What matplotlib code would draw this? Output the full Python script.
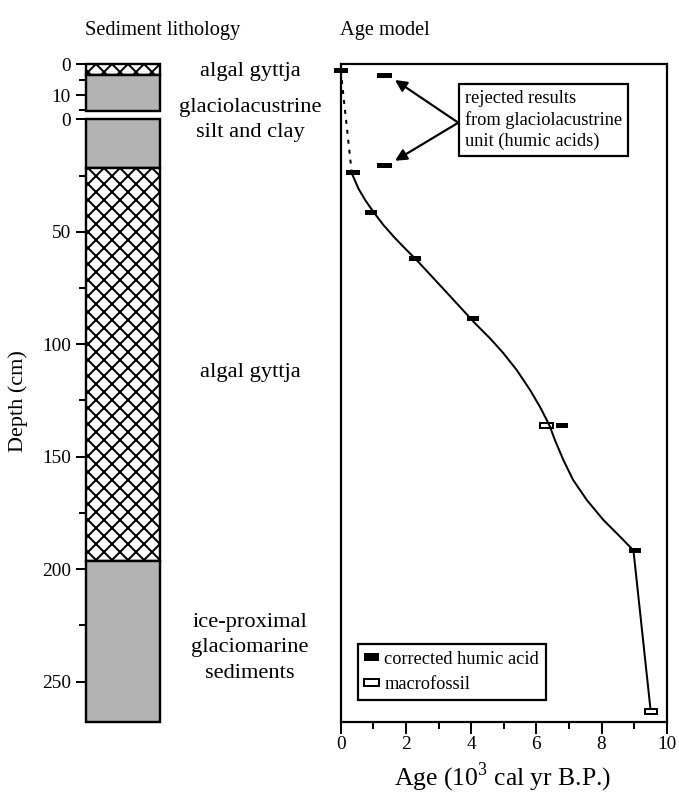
import matplotlib.pyplot as plt
import numpy as np

plt.rcParams['font.family'] = ['Liberation Serif', 'DejaVu Serif']
plt.rcParams['mathtext.fontset'] = 'custom'
plt.rcParams['mathtext.rm'] = 'Liberation Serif'
plt.rcParams['hatch.linewidth'] = 1.0

# lithology, upper (short) core, depth in cm
upper_top = [0, 3.5]
upper_bottom = [3.5, 15.2]
upper_fill = ['hatch', 'gray']
# lithology, lower (long) core
lower_top = [0, 21.5, 196.4]
lower_bottom = [21.5, 196.4, 268]
lower_fill = ['gray', 'hatch', 'gray']

# radiocarbon dates (age in 10^3 cal yr BP, width = calibrated range)
humic_upper_age = [0.0]
humic_upper_depth = [1.9]
humic_upper_width = [0.43]
humic_age = [0.39, 0.92, 2.27, 4.06, 6.78, 9.03]
humic_depth = [23.5, 41.4, 62.0, 88.7, 136.3, 191.7]
humic_width = [0.43, 0.36, 0.36, 0.36, 0.36, 0.36]
rejected_upper_age = [1.35]
rejected_upper_depth = [3.7]
rejected_age = [1.35]
rejected_depth = [20.7]
rejected_width = [0.45]
macro_age = [6.32, 9.51]
macro_depth = [136.3, 263.3]
macro_width = [0.41, 0.36]

# age-depth model line (lower core)
model_age = [0.34, 0.54, 0.75, 1.00, 1.31, 1.67, 2.02, 2.33, 3.20, 4.12, 4.58,
             4.99, 5.40, 5.81, 6.11, 6.32, 6.42, 6.57, 6.83, 7.13, 7.55, 8.06,
             8.57, 8.98, 9.50]
model_depth = [24.0, 30.7, 35.9, 41.1, 47.0, 52.9, 58.1, 62.6, 76.2, 90.7, 97.4,
               104.0, 111.5, 120.4, 127.8, 133.7, 136.7, 142.6, 151.5, 160.4, 169.3, 178.2,
               185.6, 191.7, 262.0]

GRAY = '#b3b3b3'
W, H, DPI = 679, 792, 144

# pixel layout of the panels
UP_T, UP_B = 64.3, 111.0
LO_T, LO_B = 119.3, 722.0
LO_PX = (LO_B - LO_T) / lower_bottom[-1]
UP_PX = (UP_B - UP_T) / upper_bottom[-1]


def upper_to_panel(d):
    # put upper-core depths on the age panel's (lower core) scale
    return (UP_T + np.asarray(d) * UP_PX - LO_T) / LO_PX


fig = plt.figure(figsize=(W / DPI, H / DPI), dpi=DPI)


def px_axes(l, t, r, b):
    return fig.add_axes([l / W, 1 - b / H, (r - l) / W, (b - t) / H])


def draw_column(ax, tops, bottoms, fills):
    for t, b, f in zip(tops, bottoms, fills):
        if f == 'gray':
            bars = ax.bar(0, b - t, bottom=t, width=1, align='edge',
                          color=GRAY, edgecolor='black', linewidth=1.2)
        else:
            bars = ax.bar(0, b - t, bottom=t, width=1, align='edge',
                          facecolor='white', edgecolor='black', hatch='xxx', linewidth=1.2)
        for p in bars:
            p.set_clip_on(False)
    ax.set_xlim(0, 1)
    ax.set_ylim(bottoms[-1], 0)
    for s in ax.spines.values():
        s.set_visible(False)
    ax.set_xticks([])
    ax.tick_params(axis='y', which='major', direction='out', length=5, width=1,
                   labelsize=9.6, pad=2.5)
    ax.tick_params(axis='y', which='minor', direction='out', length=3.5, width=1)


ax_up = px_axes(86, UP_T, 160, UP_B)
draw_column(ax_up, upper_top, upper_bottom, upper_fill)
ax_up.set_yticks([0, 10])
ax_up.set_yticks([5, 15], minor=True)

ax_lo = px_axes(86, LO_T, 160, LO_B)
draw_column(ax_lo, lower_top, lower_bottom, lower_fill)
ax_lo.set_yticks(np.arange(0, 251, 50))
ax_lo.set_yticks(np.arange(25, 251, 50), minor=True)

# age model panel
ax = px_axes(340.7, UP_T, 666.7, LO_B)
ax.set_xlim(0, 10)
ax.set_ylim(lower_bottom[-1], -(LO_T - UP_T) / LO_PX)
for s in ax.spines.values():
    s.set_linewidth(1.1)
ax.set_yticks([])
ax.set_xticks(np.arange(0, 11, 2))
ax.set_xticks(np.arange(1, 10, 2), minor=True)
ax.tick_params(axis='x', which='major', direction='out', length=6, width=1,
               labelsize=9.6, pad=1)
ax.tick_params(axis='x', which='minor', direction='out', length=3.5, width=1)

BAR_H = 2.3
# dashed link to the upper core and the model curve
ax.plot([humic_upper_age[0], model_age[0]],
        [upper_to_panel(humic_upper_depth)[0], model_depth[0]],
        color='black', lw=1.0, ls=(0, (2, 3)), zorder=3)
ax.plot(model_age, model_depth, color='black', lw=1.0, zorder=3)

hum = ax.barh(humic_depth, humic_width, left=np.array(humic_age) - np.array(humic_width) / 2,
              height=BAR_H, color='black', label='corrected humic acid', zorder=2)
hum_up = ax.barh(upper_to_panel(humic_upper_depth), humic_upper_width,
                 left=np.array(humic_upper_age) - np.array(humic_upper_width) / 2,
                 height=BAR_H, color='black', zorder=2)
rej = ax.barh(list(upper_to_panel(rejected_upper_depth)) + rejected_depth, rejected_width * 2,
              left=np.array(rejected_upper_age + rejected_age) - rejected_width[0] / 2,
              height=BAR_H, color='black', zorder=2)
mac = ax.barh(macro_depth, macro_width, left=np.array(macro_age) - np.array(macro_width) / 2,
              height=BAR_H, facecolor='white', edgecolor='black', linewidth=1.0,
              label='macrofossil', zorder=2)
for cont in (hum, hum_up, rej, mac):
    for p in cont:
        p.set_clip_on(False)

# multi-line text: baseline refers to the last line
ax.text(0.381, 0.8758, 'rejected results\nfrom glaciolacustrine\nunit (humic acids)',
        transform=ax.transAxes, fontsize=9.2, va='baseline', ha='left', linespacing=1.3,
        bbox=dict(boxstyle='square,pad=0.3', facecolor='white', edgecolor='black', linewidth=1.1))
for tip in [(0.1666, 0.9761), (0.1666, 0.8534)]:
    ax.annotate('', xy=tip, xycoords='axes fraction', xytext=(0.3607, 0.9112),
                textcoords='axes fraction',
                arrowprops=dict(arrowstyle='-|>', color='black', lw=1.1,
                                mutation_scale=12, shrinkA=0, shrinkB=0))

leg = ax.legend(loc='lower left', bbox_to_anchor=(0.052, 0.034), borderaxespad=0,
                fontsize=9.2, frameon=True, fancybox=False, framealpha=1,
                edgecolor='black', handlelength=0.8, handleheight=0.27,
                handletextpad=0.3, labelspacing=0.45, borderpad=0.35)
leg.get_frame().set_linewidth(1.1)

# texts
fig.text(163 / W, 1 - 35 / H, 'Sediment lithology', ha='center', va='baseline', fontsize=10.2)
fig.text(385 / W, 1 - 35 / H, 'Age model', ha='center', va='baseline', fontsize=10.2)
fig.text(18 / W, 1 - 401 / H, 'Depth (cm)', rotation=90, ha='center', va='center', fontsize=11.1)
fig.text(503 / W, 1 - 785 / H, 'Age (10$^{3}$ cal yr B.P.)', ha='center', va='baseline',
         fontsize=12.8)

unit_labels = [('algal gyttja', 76), ('glaciolacustrine', 111.7), ('silt and clay', 136.7),
               ('algal gyttja', 376.7), ('ice-proximal', 626.7), ('glaciomarine', 651.7),
               ('sediments', 678.3)]
for txt, yb in unit_labels:
    fig.text(250 / W, 1 - yb / H, txt, ha='center', va='baseline', fontsize=11.2)

fig.savefig('out.png', dpi=DPI, facecolor='white')
